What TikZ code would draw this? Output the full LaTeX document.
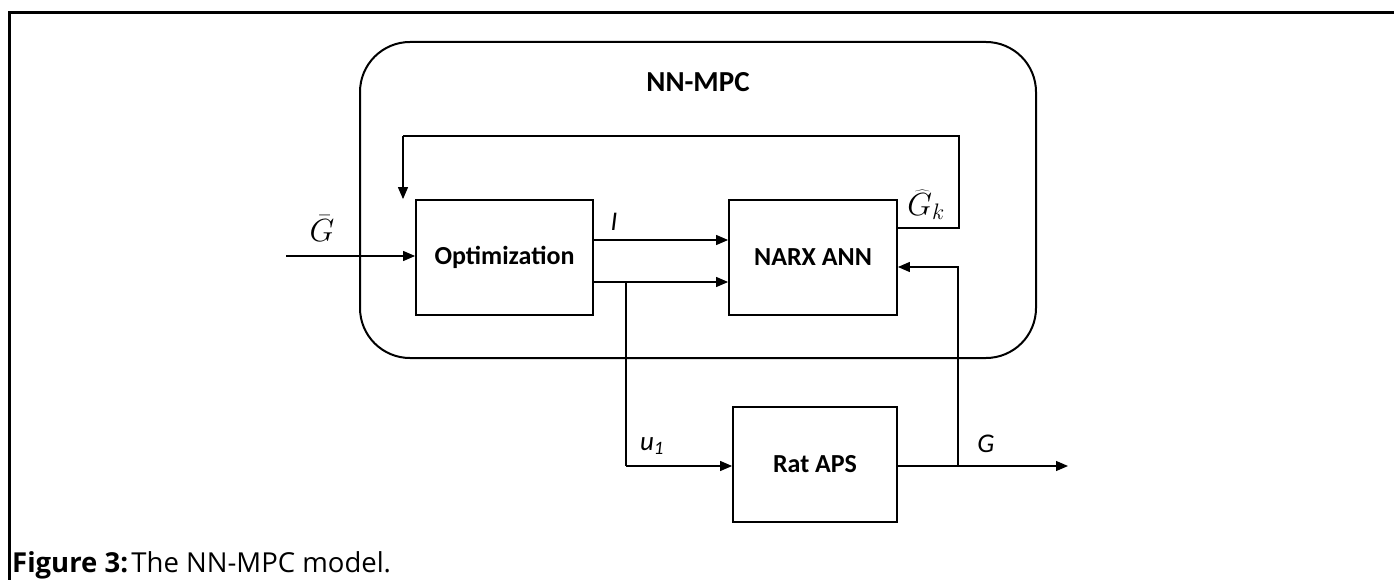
\RequirePackage{fix-cm}
\documentclass[tikz,border=0pt]{standalone}
\usepackage{fontspec}
\setmainfont{Carlito}
\newfontfamily\capfont{Open Sans}
\usetikzlibrary{arrows.meta}
\begin{document}
\begin{tikzpicture}[x=1pt,y=-1pt,
  blk/.style={draw,line width=1.8pt,minimum width=177pt,minimum height=115pt,font=\fontsize{26}{30}\selectfont\bfseries},
  wire/.style={line width=1.2pt},
  arr/.style={wire,-{Triangle[length=12pt,width=10pt]}},
  lbl/.style={font=\fontsize{27}{30}\selectfont\itshape},
  mlbl/.style={inner sep=0pt,font=\fontsize{32}{34}\selectfont}]
\useasboundingbox (0,0) rectangle (1394,580);
% page frame
\draw[line width=3pt] (9,580) -- (9,13) -- (1394,13);
% controller container
\draw[line width=2pt,rounded corners=50pt] (360,42) rectangle (1036,358);
\node[font=\fontsize{29}{32}\selectfont\bfseries] (title) at (698,82) {NN-MPC};
% blocks
\node[blk] (opt) at (504.5,257.5) {Optimization};
\node[blk,minimum width=168pt] (narx) at (813,257.5) {NARX ANN};
\node[blk,minimum width=164pt] (rat) at (815,464.5) {Rat APS};
% connection points
\coordinate (gin) at (286,256);
\coordinate (fbR) at (959,228);
\coordinate (fbT) at (959,136);
\coordinate (fbL) at (403,136);
\coordinate (br) at (626,282);
\coordinate (u1c) at (626,466);
\coordinate (gtap) at (958,466);
\coordinate (gout) at (1068,466);
% signals
\draw[arr] (gin) -- (gin -| opt.west);
\draw[arr] (opt.east |- 0,240) -- (narx.west |- 0,240);
\draw[arr] (opt.east |- 0,282) -- (narx.west |- 0,282);
\draw[wire] (narx.east |- fbR) -- (fbR) -- (fbT) -- (fbL);
\draw[arr] (fbL) -- (fbL |- opt.north);
\draw[wire] (br) -- (u1c);
\draw[arr] (u1c) -- (u1c -| rat.west);
\draw[arr] (rat.east |- gout) -- (gout);
\draw[arr] (gtap) -- (gtap |- 0,267) -- (narx.east |- 0,267);
% labels
\node[mlbl] (lgbar) at (322,229) {$\bar{G}$};
\node[lbl] (lI) at (614,222) {I};
\node[mlbl] (lghat) at (926,205) {$\widehat{G}_k$};
\node[lbl] (lu) at (652,446) {u\textsubscript{1}};
\node[lbl] (lG) at (986,444) {G};
% caption
\node[anchor=base west,font=\capfont\fontsize{27.5}{30}\selectfont,inner sep=0pt] (cap) at (12,572) {\textbf{Figure 3:}\hspace{0.12em}The NN-MPC model.};
\end{tikzpicture}
\end{document}
